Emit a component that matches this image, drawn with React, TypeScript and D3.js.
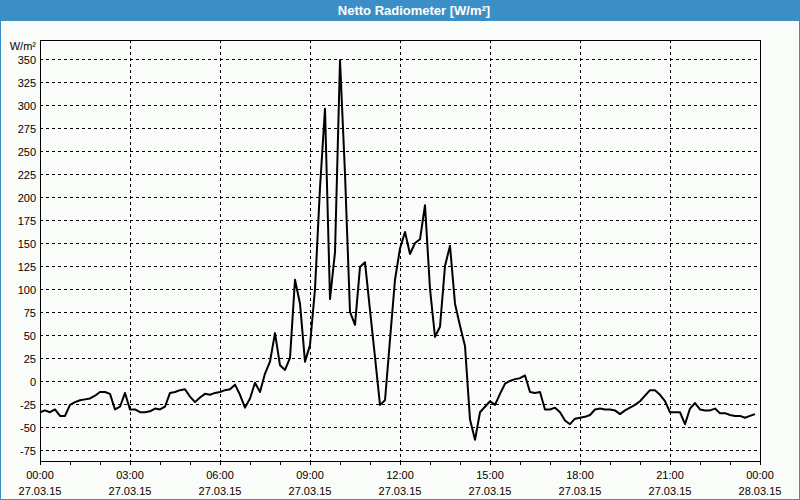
import React from "react";
import * as d3 from "d3";

const title = "Netto Radiometer [W/m²]";
const unitLabel = "W/m²";
const sampleStepMinutes = 10;

// Net radiation, 10-minute samples from 27.03.15 00:00 to 23:50
const netRadiation = [
  -34, -32, -34, -31, -38, -38, -26, -23, -21, -20, -19, -16,
  -12, -12, -14, -31, -28, -13, -31, -31, -34, -34, -33, -30,
  -31, -28, -13, -12, -10, -9, -17, -23, -18, -14, -15, -13,
  -12, -10, -9, -4, -15, -29, -19, -2, -12, 8, 21, 52,
  17, 12, 25, 110, 84, 21, 39, 100, 210, 296, 89, 140,
  349, 225, 75, 61, 124, 129, 77, 26, -26, -21, 45, 110,
  144, 162, 138, 150, 154, 191, 100, 48, 59, 125, 147, 84,
  60, 38, -42, -64, -34, -28, -22, -26, -14, -3, 0, 2,
  3, 6, -12, -13, -12, -31, -31, -29, -34, -43, -47, -41,
  -40, -39, -37, -31, -30, -31, -31, -32, -36, -32, -29, -26,
  -22, -16, -10, -10, -15, -22, -34, -34, -34, -47, -30, -24,
  -31, -32, -32, -30, -35, -35, -37, -38, -38, -40, -38, -36,
];

const yTicks = [-75, -50, -25, 0, 25, 50, 75, 100, 125, 150, 175, 200, 225, 250, 275, 300, 325, 350];
const yDomain = [-87, 370.65];
const xLabelHours = [0, 3, 6, 9, 12, 15, 18, 21, 24];
const xTimeLabels = ["00:00", "03:00", "06:00", "09:00", "12:00", "15:00", "18:00", "21:00", "00:00"];
const xDateLabels = ["27.03.15", "27.03.15", "27.03.15", "27.03.15", "27.03.15", "27.03.15", "27.03.15", "27.03.15", "28.03.15"];
const minorTickHours = [0, 1, 2, 3, 4, 5, 6, 7, 8, 9, 10, 11, 12, 13, 14, 15, 16, 17, 18, 19, 20, 21, 22, 23, 24];

const FONT = "'Liberation Sans', Arial, sans-serif";

export default function App() {
  const W = 800;
  const H = 500;
  const left = 40, right = 760, top = 40, bottom = 461;

  const x = d3.scaleLinear().domain([0, 24 * 60]).range([left, right]);
  const y = d3.scaleLinear().domain(yDomain).range([bottom, top]);

  const linePath = d3
    .line<number>()
    .x((_, i) => x(i * sampleStepMinutes))
    .y((d) => y(d))(netRadiation) || "";

  const snap = (v: number) => Math.round(v) + 0.5;

  return (
    <svg
      width={W}
      height={H}
      style={{ position: "absolute", left: 0, top: 0, display: "block" }}
      xmlns="http://www.w3.org/2000/svg"
    >
      <rect x={0} y={0} width={W} height={H} fill="#fafcfa" />
      <rect x={0.5} y={0.5} width={W - 1} height={H - 1} fill="none" stroke="#3c8fc6" />
      <rect x={0} y={0} width={W} height={21} fill="#3c8fc6" />
      <text
        x={414}
        y={15}
        textAnchor="middle"
        fill="#ffffff"
        fontFamily={FONT}
        fontWeight="bold"
        fontSize={13}
      >
        {title}
      </text>

      {/* grid */}
      <g shapeRendering="crispEdges">
        {yTicks.map((t) => (
          <line
            key={"hg" + t}
            x1={left}
            x2={right}
            y1={snap(y(t))}
            y2={snap(y(t))}
            stroke="#000"
            strokeWidth={1}
            strokeDasharray="3,3"
          />
        ))}
        {xLabelHours.slice(1, -1).map((h) => (
          <line
            key={"vg" + h}
            x1={snap(x(h * 60))}
            x2={snap(x(h * 60))}
            y1={top}
            y2={bottom}
            stroke="#000"
            strokeWidth={1}
            strokeDasharray="3,3"
          />
        ))}
      </g>

      {/* frame */}
      <rect
        x={left + 0.5}
        y={top + 0.5}
        width={right - left}
        height={bottom - top}
        fill="none"
        stroke="#000"
        strokeWidth={1}
        shapeRendering="crispEdges"
      />

      {/* x minor ticks */}
      <g shapeRendering="crispEdges">
        {minorTickHours.map((h) => (
          <line
            key={"mt" + h}
            x1={snap(x(h * 60))}
            x2={snap(x(h * 60))}
            y1={bottom}
            y2={bottom + 4}
            stroke="#000"
          />
        ))}
      </g>

      {/* y labels */}
      <g fontFamily={FONT} fontSize={11} fill="#000" textAnchor="end">
        <text x={36} y={50}>{unitLabel}</text>
        {yTicks.map((t) => (
          <text key={"yl" + t} x={36} y={snap(y(t)) + 4}>
            {t}
          </text>
        ))}
      </g>

      {/* x labels */}
      <g fontFamily={FONT} fontSize={11} fill="#000" textAnchor="middle">
        {xLabelHours.map((h, i) => (
          <g key={"xl" + h}>
            <text x={x(h * 60)} y={479}>{xTimeLabels[i]}</text>
            <text x={x(h * 60)} y={494.5}>{xDateLabels[i]}</text>
          </g>
        ))}
      </g>

      {/* data line */}
      <path
        d={linePath}
        fill="none"
        stroke="#000"
        strokeWidth={2}
        strokeLinejoin="round"
      />
    </svg>
  );
}
